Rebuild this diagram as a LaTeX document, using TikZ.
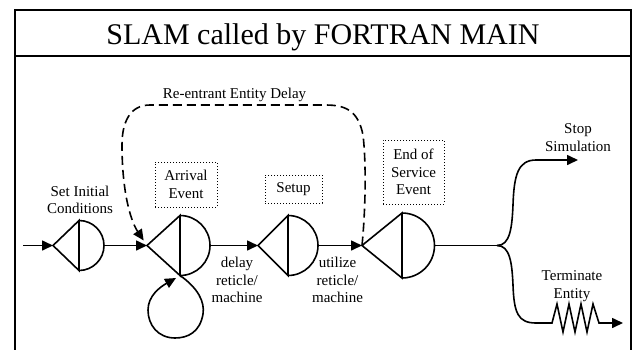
\documentclass[tikz,border=0pt]{standalone}
\usepackage{fontspec}
\setmainfont{Liberation Serif}
\usetikzlibrary{arrows.meta}
\begin{document}
\begin{tikzpicture}[x=1pt,y=-1pt,
  flow/.style={line width=1.6pt},
  tip/.style={-{Triangle[length=11pt,width=10pt]}},
  reentry/.style={flow, dash pattern=on 9pt off 5pt},
  lbl/.style={font=\fontsize{15}{17.5}\selectfont, align=center, inner sep=0pt},
  evbox/.style={lbl, draw, dotted, line width=1pt},
  pics/gate/.style n args={2}{code={
    \draw[flow, line join=miter] (0,-#2) -- (-#1,0) -- (0,#2) -- cycle;
    \draw[flow] (0,-#2) arc[start angle=-90, end angle=90, radius=#2];
    \coordinate (-w) at (-#1,0);
    \coordinate (-e) at (#2,0);
    \coordinate (-s) at (0,#2);
  }}]
\useasboundingbox (0,0) rectangle (638,349);

% frame and heading
\draw[line width=1.5pt] (15,352) -- (15,10) -- (631,10) -- (631,352);
\draw[line width=1.5pt] (15,56) -- (631,56);
\node[font=\fontsize{30}{36}\selectfont, anchor=base, inner sep=0pt] (title) at (323,44) {SLAM called by FORTRAN MAIN};

% activity symbols
\pic (n1) at (79,245.5)  {gate={26}{25}};
\pic (n2) at (180,245.5) {gate={33}{30}};
\pic (n3) at (288,245.5) {gate={30}{30}};
\pic (n4) at (402,245.5) {gate={40}{32.5}};

% free ends and branch point
\coordinate (entry) at (23,245.5);
\coordinate (split) at (497,245.5);
\coordinate (stopend) at (578,160);
\coordinate (termend) at (623,323);

% main flow
\draw[flow,tip] (entry) -- (n1-w);
\draw[flow,tip] (n1-e) -- (n2-w);
\draw[flow,tip] (n2-e) -- (n3-w);
\draw[flow,tip] (n3-e) -- (n4-w);
\draw[flow] (n4-e) -- (split);

% self loop on the arrival symbol
\draw[flow,tip] (n2-s) .. controls (198,288) and (205,302) .. (203,314)
  .. controls (200,332) and (188,338) .. (175,338)
  .. controls (158,338) and (148,325) .. (148,310)
  .. controls (148,296) and (160,287) .. (176,278);

% re-entrant entity delay
\draw[reentry,tip,shorten >=6pt] (n4-w) .. controls (366,205) and (366,160) .. (363,135)
  .. controls (358,110) and (345,105) .. (325,105) -- (150,105)
  .. controls (130,105) and (122,122) .. (122,145)
  .. controls (122,190) and (130,220) .. (n2-w);

% exits
\draw[flow,tip] (split) .. controls (510,245.5) and (512,228) .. (513,205)
  .. controls (514,175) and (518,160) .. (536,160) -- (stopend);
\draw[flow,tip] (split) .. controls (510,245.5) and (512,263) .. (513,285)
  .. controls (514,313) and (518,323) .. (536,323) -- (552,323)
  -- (557,304) -- (563,332) -- (569,304) -- (575,332) -- (581,304)
  -- (587,332) -- (593,304) -- (599,323) -- (termend);

% labels
\node[lbl] (tset) at (80,200) {Set Initial\\Conditions};
\node[evbox, minimum width=62pt, minimum height=45pt] (tarr) at (186,184.5) {Arrival\\Event};
\node[evbox, minimum width=57pt, minimum height=28pt] (tsetup) at (293.5,189) {Setup};
\node[evbox, minimum width=61pt, minimum height=64pt] (tend) at (413.5,172) {End of\\Service\\Event};
\node[lbl] (tdelay) at (237,280) {delay\\reticle/\\machine};
\node[lbl] (tutil) at (337.5,280) {utilize\\reticle/\\machine};
\node[lbl] (tstop) at (578,137.5) {Stop\\Simulation};
\node[lbl] (tterm) at (572,286) {Terminate\\Entity};
\node[lbl] (tre) at (234.5,95) {Re-entrant Entity Delay};
\end{tikzpicture}
\end{document}
